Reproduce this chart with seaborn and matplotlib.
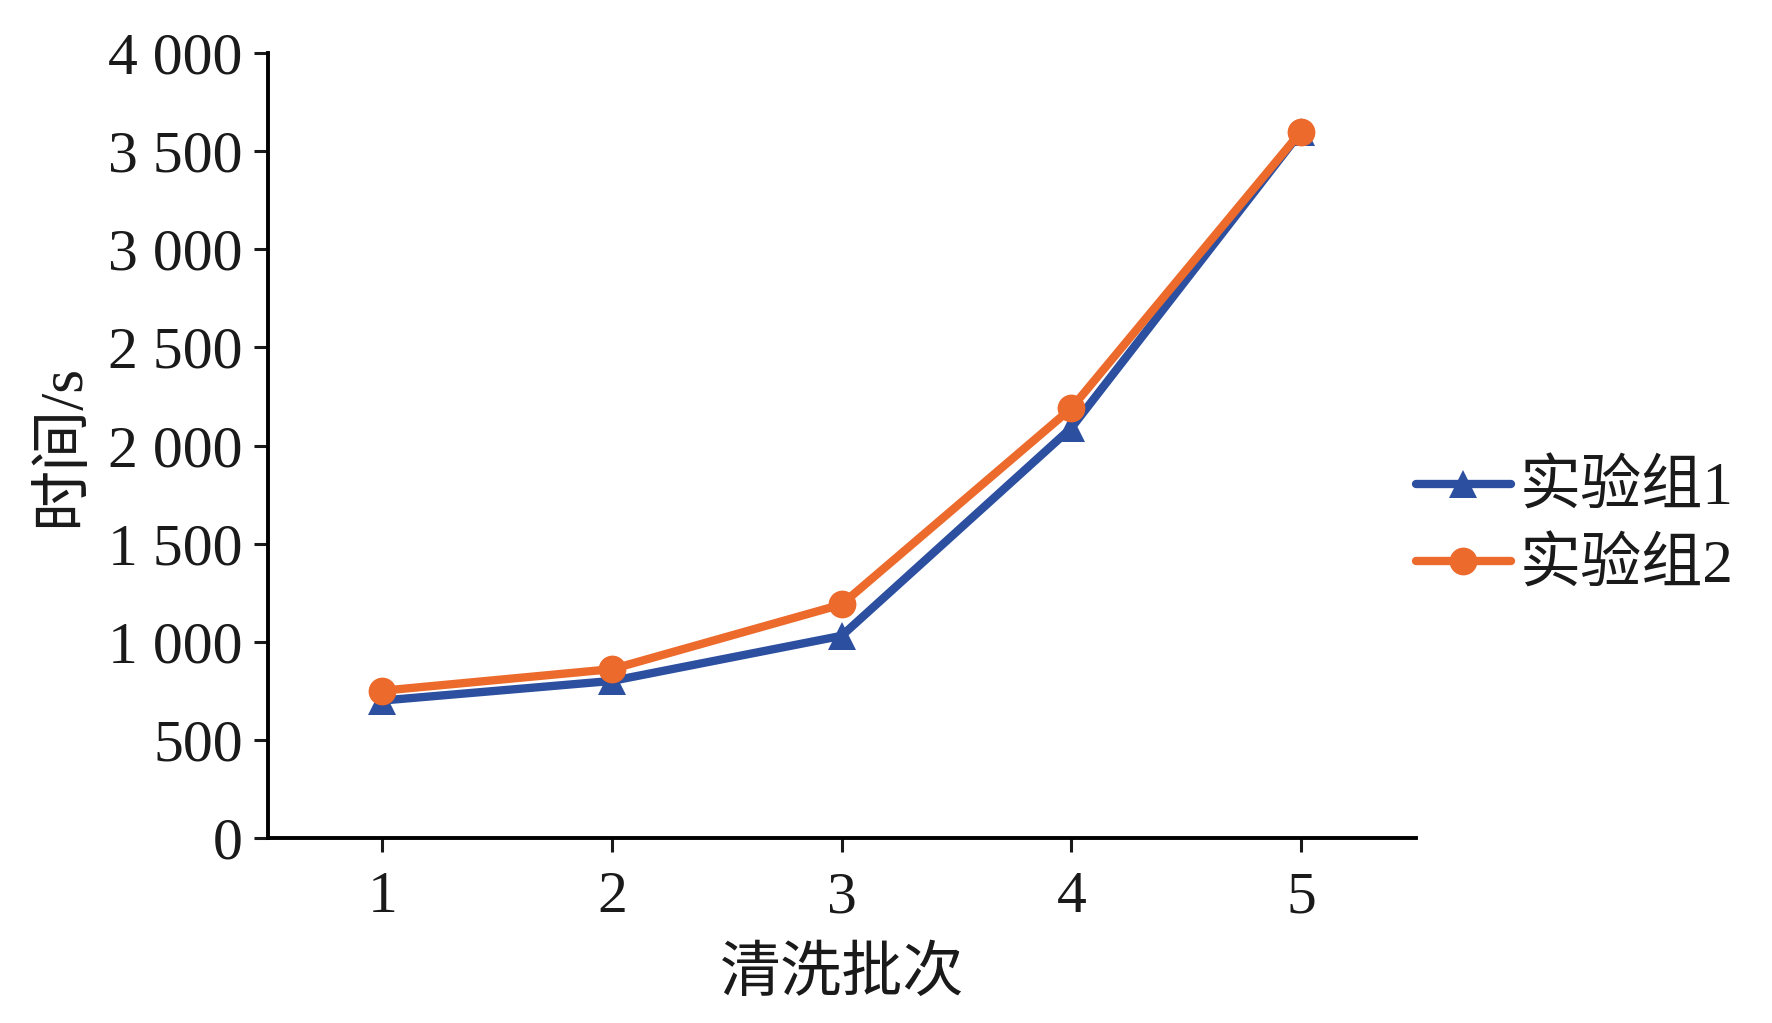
import pandas as pd
import seaborn as sns
import matplotlib.pyplot as plt

batches = [1, 2, 3, 4, 5]
group1 = [700, 800, 1030, 2090, 3600]
group2 = [750, 860, 1190, 2190, 3600]
series_names = ['实验组1', '实验组2']
yticks = [0, 500, 1000, 1500, 2000, 2500, 3000, 3500, 4000]
ytick_labels = ['0', '500', '1 000', '1 500', '2 000', '2 500', '3 000', '3 500', '4 000']

df = pd.DataFrame({
    '清洗批次': batches * 2,
    '时间/s': group1 + group2,
    'group': [series_names[0]] * 5 + [series_names[1]] * 5,
})

sns.set_style('ticks')
plt.rcParams['font.family'] = ['Liberation Serif', 'Noto Sans CJK SC']

fig = plt.figure(figsize=(17.72, 10.23), dpi=100)
ax = fig.add_axes([0.151, 0.181, 0.648, 0.767])

sns.lineplot(data=df, x='清洗批次', y='时间/s', hue='group', style='group',
             palette={'实验组1': '#2D4FA0', '实验组2': '#EC6A2B'},
             markers={'实验组1': '^', '实验组2': 'o'}, dashes=False,
             linewidth=6, markersize=20, markeredgewidth=0, ax=ax)

ax.set_xlim(0.5, 5.5)
ax.set_ylim(0, 4000)
ax.set_xticks(batches)
ax.set_xticklabels([str(b) for b in batches])
ax.set_yticks(yticks)
ax.set_yticklabels(ytick_labels)
ax.tick_params(axis='both', labelsize=43, width=2.2, length=10, colors='#1a1a1a', pad=8)
ax.tick_params(axis='x', pad=14)
ax.set_xlabel('清洗批次', fontsize=44, labelpad=16, color='#1a1a1a')
ax.set_ylabel('时间/s', fontsize=44, labelpad=12, color='#1a1a1a')

for s in ['top', 'right']:
    ax.spines[s].set_visible(False)
for s in ['left', 'bottom']:
    ax.spines[s].set_linewidth(2.8)
    ax.spines[s].set_color('black')

handles, labels = ax.get_legend_handles_labels()
leg = ax.legend(handles, labels, loc='center left', bbox_to_anchor=(1.0, 0.394),
                frameon=False, fontsize=44, handlelength=1.55, handletextpad=0.15,
                labelspacing=0.35, borderaxespad=0, borderpad=0)
for t in leg.get_texts():
    t.set_color('#1a1a1a')

fig.savefig('out.png', dpi=100)
